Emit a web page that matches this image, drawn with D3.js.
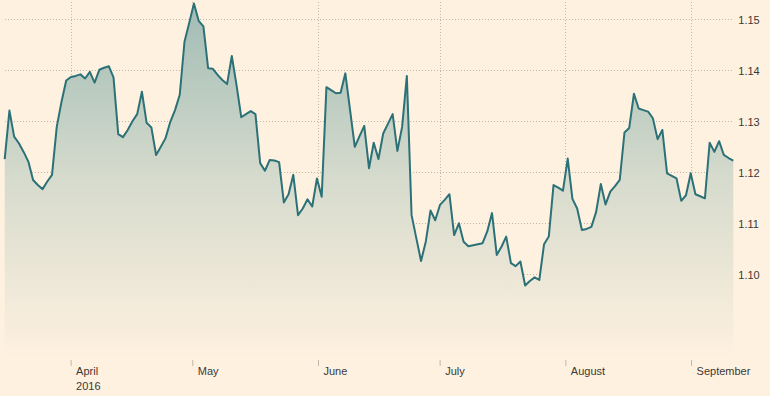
<!DOCTYPE html>
<html>
<head>
<meta charset="utf-8">
<script src="https://cdn.jsdelivr.net/npm/d3@7/dist/d3.min.js"></script>
<style>
  html, body { margin: 0; padding: 0; background: #fff1e0; }
  #chart svg { display: block; }
  .grid line { stroke: #c4b7a8; stroke-dasharray: 1,2; shape-rendering: crispEdges; }
  .grid path { display: none; }
  .axis text { font-family: "Liberation Sans", Arial, sans-serif; font-size: 11px; fill: #3b3935; }
</style>
</head>
<body>
<div id="chart"></div>
<script>
// evenly spaced closes
const values = [
  1.1226, 1.1321, 1.1270, 1.1257, 1.1240, 1.1221, 1.1185, 1.1175, 1.1167, 1.1182,
  1.1195, 1.1289, 1.1338, 1.1380, 1.1387, 1.1389, 1.1392, 1.1384, 1.1397, 1.1376,
  1.1401, 1.1405, 1.1408, 1.1386, 1.1275, 1.1269, 1.1283, 1.1300, 1.1314, 1.1358,
  1.1297, 1.1288, 1.1234, 1.1250, 1.1267, 1.1299, 1.1322, 1.1352, 1.1456, 1.1493,
  1.1531, 1.1497, 1.1486, 1.1404, 1.1403, 1.1391, 1.1381, 1.1373, 1.1428, 1.1371,
  1.1308, 1.1314, 1.1320, 1.1314, 1.1218, 1.1203, 1.1224, 1.1223, 1.1220, 1.1141,
  1.1157, 1.1195, 1.1116, 1.1129, 1.1147, 1.1133, 1.1188, 1.1152, 1.1367, 1.1361,
  1.1355, 1.1356, 1.1394, 1.1322, 1.1250, 1.1271, 1.1291, 1.1208, 1.1258, 1.1226,
  1.1276, 1.1295, 1.1314, 1.1242, 1.1289, 1.1389, 1.1116, 1.1071, 1.1026, 1.1064,
  1.1125, 1.1106, 1.1136, 1.1146, 1.1157, 1.1077, 1.1100, 1.1064, 1.1055, 1.1057,
  1.1059, 1.1061, 1.1084, 1.1120, 1.1038, 1.1054, 1.1074, 1.1022, 1.1016, 1.1025,
  1.0978, 1.0987, 1.0994, 1.0989, 1.1059, 1.1074, 1.1175, 1.1170, 1.1164, 1.1227,
  1.1148, 1.1129, 1.1087, 1.1089, 1.1093, 1.1122, 1.1177, 1.1137, 1.1162, 1.1173,
  1.1185, 1.1278, 1.1287, 1.1354, 1.1325, 1.1322, 1.1319, 1.1306, 1.1265, 1.1283,
  1.1198, 1.1193, 1.1188, 1.1144, 1.1155, 1.1198, 1.1157, 1.1153, 1.1149, 1.1258,
  1.1240, 1.1261, 1.1234, 1.1228, 1.1223
];
const firstDate = new Date(2016, 2, 15, 18);
const lastDate = new Date(2016, 8, 11, 10);

const yTicks = [1.10, 1.11, 1.12, 1.13, 1.14, 1.15];
const monthLabels = ["April", "May", "June", "July", "August", "September"];
const yearLabel = "2016";

const width = 770, height = 396;
const plot = { left: 4.7, right: 733.3, top: 0, bottom: 360 };

const svg = d3.select("#chart").append("svg")
  .attr("width", width)
  .attr("height", height);

svg.append("rect")
  .attr("width", width).attr("height", height)
  .attr("fill", "#fff1e0");

const x = d3.scaleTime()
  .domain([firstDate, lastDate])
  .range([plot.left, plot.right]);

const y = d3.scaleLinear()
  .domain([1.10, 1.15])
  .range([274.3, 19.3]);

// points sit at equal steps between the first and last date
const step = d3.scaleLinear()
  .domain([0, values.length - 1])
  .range([+firstDate, +lastDate]);

const data = values.map((v, i) => ({ date: new Date(step(i)), value: v }));

const monthTicks = d3.timeMonth.range(d3.timeMonth.ceil(firstDate), lastDate);

// gradient under the line
const grad = svg.append("defs").append("linearGradient")
  .attr("id", "fade")
  .attr("gradientUnits", "userSpaceOnUse")
  .attr("x1", 0).attr("y1", 0)
  .attr("x2", 0).attr("y2", plot.bottom);
grad.append("stop").attr("offset", "0").attr("stop-color", "rgb(160,187,180)");
grad.append("stop").attr("offset", "0.5").attr("stop-color", "rgb(214,219,205)");
grad.append("stop").attr("offset", "1").attr("stop-color", "#fff1e0");

// horizontal grid
svg.append("g")
  .attr("class", "grid")
  .attr("transform", `translate(${plot.left},0)`)
  .call(d3.axisRight(y).tickValues(yTicks).tickSize(plot.right - plot.left).tickFormat(() => ""));

// vertical grid
svg.append("g")
  .attr("class", "grid")
  .attr("transform", `translate(0,${plot.bottom})`)
  .call(d3.axisBottom(x).tickValues(monthTicks).tickSize(-plot.bottom).tickFormat(() => ""));

// area + line
const area = d3.area()
  .x(d => x(d.date))
  .y0(plot.bottom)
  .y1(d => y(d.value));

svg.append("path")
  .datum(data)
  .attr("fill", "url(#fade)")
  .attr("d", area);

const line = d3.line()
  .x(d => x(d.date))
  .y(d => y(d.value));

svg.append("path")
  .datum(data)
  .attr("fill", "none")
  .attr("stroke", "#2b7178")
  .attr("stroke-width", 2)
  .attr("stroke-linejoin", "round")
  .attr("d", line);

// y axis labels on the right
const yAxis = svg.append("g")
  .attr("class", "axis")
  .attr("transform", `translate(${plot.right},0)`)
  .call(d3.axisRight(y).tickValues(yTicks).tickSize(0).tickPadding(5).tickFormat(d3.format(".2f")));
yAxis.select(".domain").remove();
yAxis.selectAll("text").attr("text-anchor", "start").attr("dy", "0.36em");

// x axis
const xAxis = svg.append("g")
  .attr("class", "axis")
  .attr("transform", `translate(0,${plot.bottom})`)
  .call(d3.axisBottom(x).tickValues(monthTicks).tickSize(6).tickFormat((d, i) => monthLabels[i]));
xAxis.select(".domain").remove();
xAxis.selectAll(".tick line").attr("stroke", "#c4b7a8");
xAxis.selectAll(".tick text")
  .attr("text-anchor", "start")
  .attr("x", 5)
  .attr("y", 7)
  .attr("dy", "0.71em");

xAxis.select(".tick").append("text")
  .attr("fill", "#3b3935")
  .attr("text-anchor", "start")
  .attr("x", 5)
  .attr("y", 22)
  .attr("dy", "0.71em")
  .text(yearLabel);
</script>
</body>
</html>
